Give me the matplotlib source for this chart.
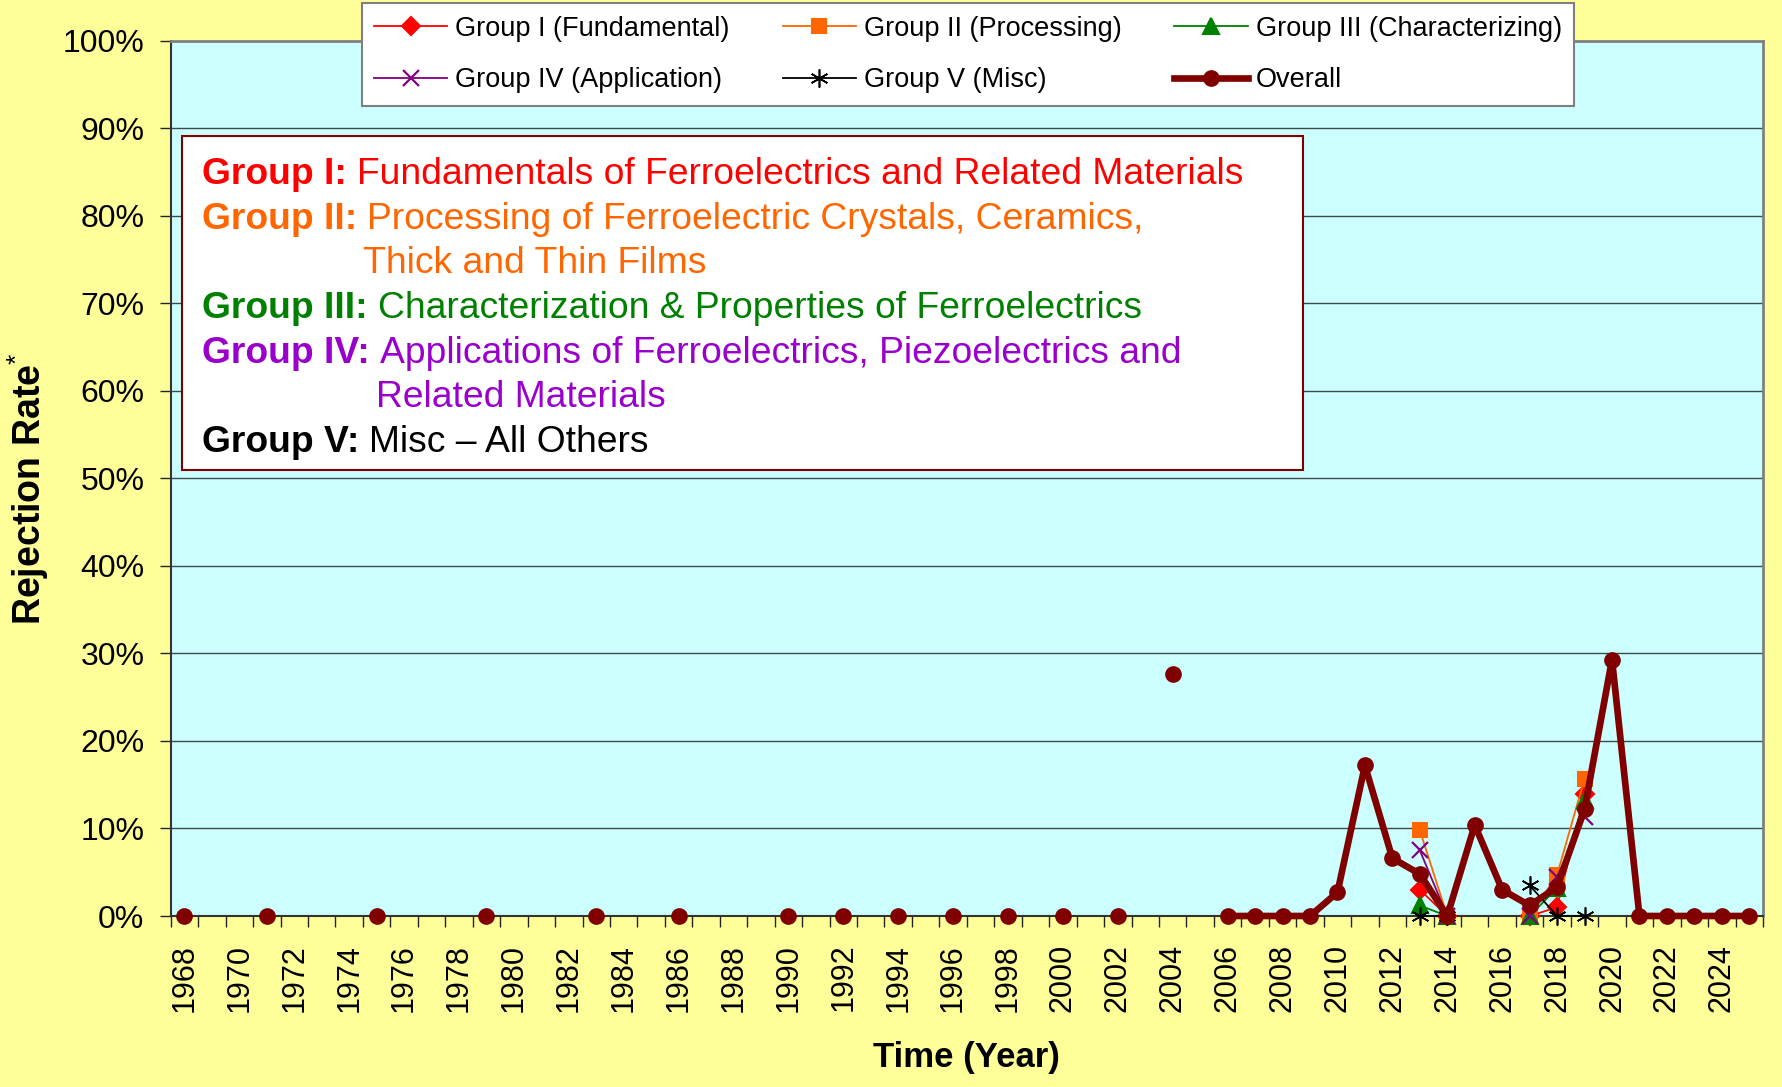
import numpy as np
import matplotlib.pyplot as plt
from matplotlib.patches import Rectangle

plt.rcParams['font.family'] = ['Liberation Sans', 'DejaVu Sans']
plt.rcParams['mathtext.fontset'] = 'custom'
plt.rcParams['mathtext.rm'] = 'Liberation Sans'

# ---- data (rejection rate, %) ----
years = np.arange(1968, 2026)

overall_years = [1968, 1971, 1975, 1979, 1983, 1986, 1990, 1992, 1994, 1996, 1998,
                 2000, 2002, 2004, 2006, 2007, 2008, 2009, 2010, 2011, 2012, 2013,
                 2014, 2015, 2016, 2017, 2018, 2019, 2020, 2021, 2022, 2023, 2024, 2025]
overall_vals = [0, 0, 0, 0, 0, 0, 0, 0, 0, 0, 0,
                0, 0, 27.6, 0, 0, 0, 0, 2.7, 17.2, 6.6, 4.8,
                0, 10.4, 3.0, 1.2, 3.3, 12.2, 29.3, 0, 0, 0, 0, 0]

group_years = [2013, 2014, 2015, 2016, 2017, 2018, 2019]
group1 = [3.0, 0.0, None, None, 0.0, 1.0, 13.9]   # Fundamental
group2 = [9.8, 0.0, None, None, 0.0, 4.7, 15.7]   # Processing
group3 = [1.2, 0.0, None, None, 0.0, 3.2, 13.2]   # Characterizing
group4 = [7.5, 0.0, None, None, 0.0, 4.5, 11.3]   # Application
group5 = [0.0, 0.0, None, None, 3.5, 0.0, 0.0]    # Misc

ytick_vals = list(range(0, 101, 10))

desc_lines = [
    ("Group I:", "Fundamentals of Ferroelectrics and Related Materials", None, '#FF0000'),
    ("Group II:", "Processing of Ferroelectric Crystals, Ceramics,", "Thick and Thin Films", '#FF6600'),
    ("Group III:", "Characterization & Properties of Ferroelectrics", None, '#008000'),
    ("Group IV:", "Applications of Ferroelectrics, Piezoelectrics and", "Related Materials", '#9900CC'),
    ("Group V:", "Misc \u2013 All Others", None, '#000000'),
]

# map overall onto the full year range, gaps where there is no value
overall = np.full(len(years), np.nan)
for y, v in zip(overall_years, overall_vals):
    overall[y - years[0]] = v


def to_arr(vals):
    return np.array([np.nan if v is None else v for v in vals], dtype=float)


W, H = 1783, 1087
fig = plt.figure(figsize=(W / 100, H / 100), dpi=100, facecolor='#FFFF99')
ax = fig.add_axes([170.7 / W, 1 - 916 / H, (1763 - 170.7) / W, (916 - 40.7) / H])
ax.set_facecolor('#CCFFFF')

series = [
    (group1, 'Group I (Fundamental)', '#FF0000', 'D', 9, 1.5),
    (group2, 'Group II (Processing)', '#FF6600', 's', 10, 1.5),
    (group3, 'Group III (Characterizing)', '#008000', '^', 11, 1.5),
    (group4, 'Group IV (Application)', '#800080', 'x', 12, 1.6),
    (group5, 'Group V (Misc)', '#000000', (6, 2, 0), 13, 1.2),
]
handles = []
for vals, lab, col, mk, ms, mw in series:
    h, = ax.plot(group_years, to_arr(vals), color=col, lw=1.3, marker=mk, ms=ms,
                 mew=mw, label=lab, clip_on=False, zorder=3)
    handles.append(h)

ho, = ax.plot(years, overall, color='#800000', lw=4.8, marker='o', ms=11,
              label='Overall', clip_on=False, zorder=4)
handles.append(ho)

# axes
ax.set_xlim(years[0] - 0.5, years[-1] + 0.5)
ax.set_ylim(0, 100)
ax.set_yticks(ytick_vals)
ax.set_yticklabels([f"{v}%" for v in ytick_vals], fontsize=23)
ax.set_xticks(years[::2])
ax.set_xticklabels([str(y) for y in years[::2]], rotation=90, fontsize=22)
ax.set_xticks(np.arange(years[0] - 0.5, years[-1] + 1.0, 1.0), minor=True)
ax.tick_params(axis='x', which='major', length=0, pad=20)
ax.tick_params(axis='x', which='minor', length=8, width=1, color='#222222')
ax.tick_params(axis='y', length=8, width=1, pad=11, color='#222222')
ax.yaxis.grid(True, color='#3c4a4a', lw=1)
ax.set_axisbelow(True)
for side in ['left', 'bottom']:
    ax.spines[side].set_color('#333333')
    ax.spines[side].set_linewidth(1.5)
for side in ['top', 'right']:
    ax.spines[side].set_color('#808080')
    ax.spines[side].set_linewidth(2)

ax.set_xlabel('Time (Year)', fontsize=25, fontweight='bold')
ax.xaxis.set_label_coords(0.5, (916 - 1057) / 875.3)
ax.xaxis.label.set_va('center')
ax.set_ylabel('Rejection Rate$^{*}$', fontsize=27, fontweight='bold')
ax.yaxis.set_label_coords((28 - 170.7) / 1592, 0.488)
ax.yaxis.label.set_va('center')

# description box
ax.add_patch(Rectangle((0.007, 0.510), 0.704, 0.381, transform=ax.transAxes,
                       facecolor='white', edgecolor='#800000', lw=1.5, zorder=5))
x0, y0 = 0.0199, 0.836
dy = 44.6 / 875.3
dy_pts = 44.6 * 72 / 100
fs_desc = 26.8
row = 0
for prefix, body, cont, col in desc_lines:
    t = ax.text(x0, y0 - row * dy, prefix, transform=ax.transAxes, fontsize=fs_desc,
                fontweight='bold', color=col, va='baseline', zorder=6)
    b = ax.annotate(body, xy=(1, 0), xycoords=t, xytext=(7, 0), textcoords='offset points',
                    fontsize=fs_desc, color=col, va='bottom', ha='left', zorder=6)
    row += 1
    if cont:
        ax.annotate(cont, xy=(0, 0), xycoords=b, xytext=(-3, -dy_pts), textcoords='offset points',
                    fontsize=fs_desc, color=col, va='bottom', ha='left', zorder=6)
        row += 1

# legend (3 columns, filled column-wise)
order = [0, 3, 1, 4, 2, 5]
leg = fig.legend([handles[i] for i in order], [handles[i].get_label() for i in order],
                 loc='upper left', bbox_to_anchor=(362 / W, 1 - 3.4 / H), borderaxespad=0,
                 ncol=3, fontsize=19.5, frameon=True, fancybox=False, edgecolor='#808080',
                 facecolor='white', framealpha=1, handlelength=2.7, columnspacing=1.95,
                 labelspacing=0.95, borderpad=0.45, handletextpad=0.3)
leg.get_frame().set_linewidth(1.5)

fig.savefig('out.png', dpi=100, facecolor=fig.get_facecolor())
